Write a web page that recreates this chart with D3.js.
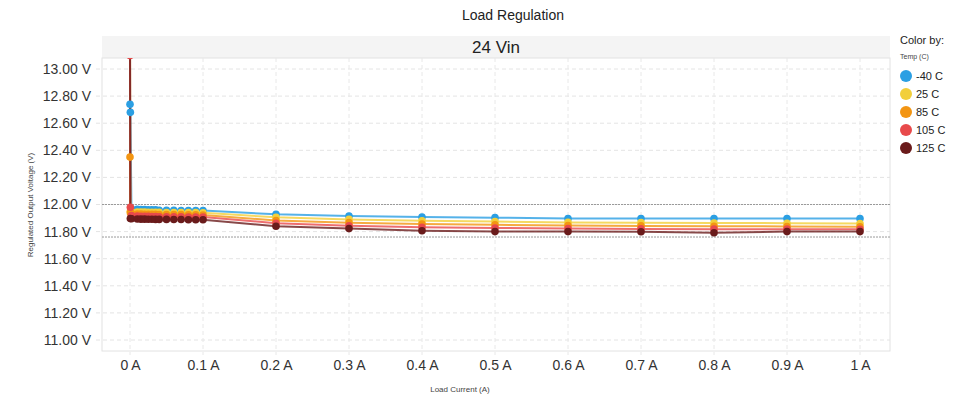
<!DOCTYPE html>
<html>
<head>
<meta charset="utf-8">
<script src="https://cdn.jsdelivr.net/npm/d3@7"></script>
<style>
  body { margin: 0; background: #fff; font-family: Arial, "Liberation Sans", sans-serif; }
</style>
</head>
<body>
<div id="chart"></div>
<script>
// load current (A)
const currents = [0, 0.0005, 0.002, 0.01, 0.015, 0.02, 0.025, 0.03, 0.035, 0.04, 0.05, 0.06, 0.07, 0.08, 0.09, 0.1,
  0.2, 0.3, 0.4, 0.5, 0.6, 0.7, 0.8, 0.9, 1.0];

const temps = ["-40 C", "25 C", "85 C", "105 C", "125 C"];
const colors = ["#2b9fe3", "#f2cf3a", "#f39512", "#e84a4b", "#6a1b1b"];

// regulated output voltage (V), one array per temperature
const vMinus40 = [12.74, 12.68, 11.968, 11.965, 11.962, 11.962, 11.96, 11.96, 11.96, 11.958, 11.958, 11.958, 11.956, 11.956, 11.955, 11.955,
  11.928, 11.915, 11.908, 11.903, 11.897, 11.897, 11.897, 11.897, 11.896];
const v25 = [13.3, 11.95, 11.948, 11.945, 11.944, 11.944, 11.943, 11.943, 11.942, 11.942, 11.941, 11.941, 11.94, 11.94, 11.94, 11.939,
  11.905, 11.89, 11.88, 11.874, 11.868, 11.866, 11.864, 11.862, 11.86];
const v85 = [12.35, 11.94, 11.935, 11.93, 11.93, 11.928, 11.928, 11.927, 11.927, 11.926, 11.926, 11.925, 11.925, 11.924, 11.924, 11.923,
  11.882, 11.866, 11.856, 11.85, 11.845, 11.842, 11.84, 11.838, 11.836];
const v105 = [13.1, 11.98, 11.918, 11.915, 11.913, 11.912, 11.912, 11.911, 11.911, 11.91, 11.91, 11.909, 11.909, 11.908, 11.908, 11.907,
  11.862, 11.843, 11.832, 11.827, 11.823, 11.82, 11.818, 11.818, 11.817];
const v125 = [13.4, 11.897, 11.895, 11.893, 11.892, 11.892, 11.891, 11.891, 11.89, 11.89, 11.89, 11.889, 11.889, 11.888, 11.888, 11.887,
  11.84, 11.822, 11.806, 11.8, 11.8, 11.799, 11.792, 11.8, 11.8];
const seriesValues = [vMinus40, v25, v85, v105, v125];

const xTicks = [0, 0.1, 0.2, 0.3, 0.4, 0.5, 0.6, 0.7, 0.8, 0.9, 1];
const yTicks = [11.0, 11.2, 11.4, 11.6, 11.8, 12.0, 12.2, 12.4, 12.6, 12.8, 13.0];
const limitLines = [12.0, 11.76];

const width = 953, height = 395;
const plot = { left: 102, right: 890, top: 58, bottom: 351 };

const svg = d3.select("#chart").append("svg")
  .attr("width", width)
  .attr("height", height);

const x = d3.scaleLinear().domain([0, 1]).range([130, 860]);
const y = d3.scaleLinear().domain([11, 13]).range([340, 69]);

// title + facet header
svg.append("text")
  .attr("x", 513).attr("y", 20)
  .attr("text-anchor", "middle")
  .style("font-size", "14px").style("fill", "#222")
  .text("Load Regulation");

svg.append("rect")
  .attr("x", plot.left).attr("y", 36)
  .attr("width", plot.right - plot.left).attr("height", plot.top - 36)
  .attr("fill", "#f4f4f4");
svg.append("text")
  .attr("x", (plot.left + plot.right) / 2).attr("y", 53)
  .attr("text-anchor", "middle")
  .style("font-size", "17px").style("fill", "#222")
  .text("24 Vin");

// plot frame
svg.append("rect")
  .attr("x", plot.left).attr("y", plot.top)
  .attr("width", plot.right - plot.left).attr("height", plot.bottom - plot.top)
  .attr("fill", "none").attr("stroke", "#e2e2e2");

// grid
svg.append("g")
  .selectAll("line")
  .data(yTicks)
  .enter().append("line")
  .attr("x1", plot.left - 6).attr("x2", plot.right)
  .attr("y1", d => y(d)).attr("y2", d => y(d))
  .attr("stroke", "#e4e4e4").attr("stroke-dasharray", "4,3");

svg.append("g")
  .selectAll("line")
  .data(xTicks)
  .enter().append("line")
  .attr("x1", d => x(d)).attr("x2", d => x(d))
  .attr("y1", plot.top).attr("y2", plot.bottom + 4)
  .attr("stroke", "#e8e8e8").attr("stroke-dasharray", "4,3");

// limit lines
svg.append("g")
  .selectAll("line")
  .data(limitLines)
  .enter().append("line")
  .attr("x1", plot.left).attr("x2", plot.right)
  .attr("y1", d => y(d)).attr("y2", d => y(d))
  .attr("stroke", "#9a9a9a").attr("stroke-dasharray", "2,1");

// axes labels
const yAxis = svg.append("g")
  .attr("transform", "translate(" + (plot.left - 8) + ",0)")
  .call(d3.axisLeft(y).tickValues(yTicks).tickSize(0).tickFormat(d => d3.format(".2f")(d) + " V"));
yAxis.select(".domain").remove();
yAxis.selectAll("text").style("font-size", "14px").style("fill", "#333")
  .style("font-family", "Arial, 'Liberation Sans', sans-serif");

const xAxis = svg.append("g")
  .attr("transform", "translate(0," + (plot.bottom + 6) + ")")
  .call(d3.axisBottom(x).tickValues(xTicks).tickSize(0).tickFormat(d => d3.format("")(d) + " A"));
xAxis.select(".domain").remove();
xAxis.selectAll("text").style("font-size", "14px").style("fill", "#333")
  .style("font-family", "Arial, 'Liberation Sans', sans-serif");

svg.append("text")
  .attr("transform", "translate(33," + 205 + ")rotate(-90)")
  .attr("text-anchor", "middle")
  .style("font-size", "8px").style("fill", "#444")
  .text("Regulated Output Voltage (V)");

svg.append("text")
  .attr("x", 460).attr("y", 392)
  .attr("text-anchor", "middle")
  .style("font-size", "8px").style("fill", "#444")
  .text("Load Current (A)");

// series
svg.append("clipPath").attr("id", "clip")
  .append("rect")
  .attr("x", plot.left).attr("y", plot.top)
  .attr("width", plot.right - plot.left).attr("height", plot.bottom - plot.top);

const series = temps.map((t, i) => ({
  name: t,
  color: colors[i],
  points: currents.map((c, j) => ({ c: c, v: seriesValues[i][j] }))
}));

const line = d3.line().x(d => x(d.c)).y(d => y(d.v));

const g = svg.append("g").attr("clip-path", "url(#clip)");

g.selectAll("path.series")
  .data(series)
  .enter().append("path")
  .attr("class", "series")
  .attr("d", d => line(d.points))
  .attr("fill", "none")
  .attr("stroke", d => d.color)
  .attr("stroke-width", 2)
  .attr("stroke-opacity", 0.8);

series.forEach(s => {
  g.append("g")
    .selectAll("circle")
    .data(s.points)
    .enter().append("circle")
    .attr("cx", d => x(d.c))
    .attr("cy", d => y(d.v))
    .attr("r", 3.8)
    .attr("fill", s.color);
});

// legend
svg.append("text")
  .attr("x", 900).attr("y", 44)
  .style("font-size", "11px").style("fill", "#222")
  .text("Color by:");
svg.append("text")
  .attr("x", 900).attr("y", 59)
  .style("font-size", "7px").style("fill", "#444")
  .text("Temp (C)");

const legend = svg.append("g")
  .selectAll("g")
  .data(temps)
  .enter().append("g")
  .attr("transform", (d, i) => "translate(906," + (76 + i * 18) + ")");
legend.append("circle")
  .attr("r", 6)
  .attr("fill", (d, i) => colors[i]);
legend.append("text")
  .attr("x", 10).attr("y", 4)
  .style("font-size", "11px").style("fill", "#222")
  .text(d => d);
</script>
</body>
</html>
